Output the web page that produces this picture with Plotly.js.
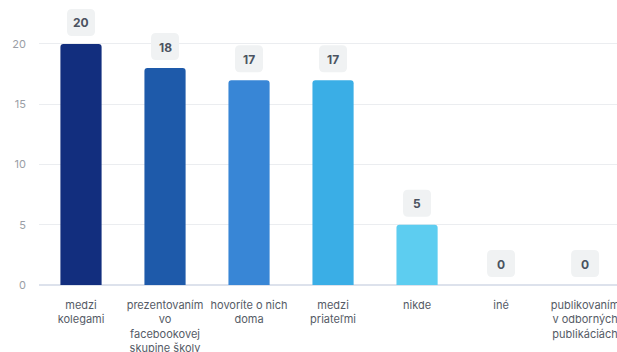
<!DOCTYPE html>
<html><head><meta charset="utf-8">
<script src="https://cdn.plot.ly/plotly-3.0.1.min.js"></script>
<style>html,body{margin:0;padding:0;background:#fff;}#chart{width:617px;height:352px;}</style>
</head><body><div id="chart"></div>
<script>
const categories = ["medzi<br>kolegami", "prezentovaním<br>vo<br>facebookovej<br>skupine školy", "hovoríte o nich<br>doma", "medzi<br>priateľmi", "nikde", "iné", "publikovaním<br>v odborných<br>publikáciách"];
const values = [20, 18, 17, 17, 5, 0, 0];
const barColors = ["#122e7e", "#1e5aaa", "#3886d6", "#3aaee6", "#5dcdf0", "#8fdcf5", "#b5e8f8"];
const yTicks = [0, 5, 10, 15, 20];

const xIdx = categories.map((c, i) => i);

const trace = {
  type: 'bar',
  x: xIdx,
  y: values,
  width: 0.49,
  marker: {color: barColors, cornerradius: 3},
  hoverinfo: 'none',
  cliponaxis: false
};

const boxPath = 'M -9,8 L 9,8 Q 14,8 14,13 L 14,30 Q 14,35 9,35 L -9,35 Q -14,35 -14,30 L -14,13 Q -14,8 -9,8 Z';
const shapes = values.map((v, i) => ({
  type: 'path', xref: 'x', yref: 'y', xsizemode: 'pixel', ysizemode: 'pixel',
  xanchor: i, yanchor: v, path: boxPath,
  fillcolor: '#f0f2f3', line: {width: 0}, layer: 'above'
}));
const annotations = values.map((v, i) => ({
  x: i, y: v, xref: 'x', yref: 'y', text: '<b>' + v + '</b>', showarrow: false,
  yanchor: 'middle', yshift: 21, font: {family: 'Inter, sans-serif', size: 12, color: '#4b5361'}
}));

const layout = {
  width: 617, height: 352,
  margin: {l: 39, r: 0, t: 0, b: 67},
  paper_bgcolor: '#fff', plot_bgcolor: '#fff',
  showlegend: false,
  font: {family: 'Inter, sans-serif'},
  xaxis: {
    range: [-0.5, 6.38], tickmode: 'array', tickvals: xIdx, ticktext: categories,
    showgrid: false, zeroline: false, showline: false, ticks: '',
    tickfont: {size: 11, color: '#555b66'}, ticklabelstandoff: 12, ticklabeloverflow: 'allow'
  },
  yaxis: {
    range: [0, 23.65], tickmode: 'array', tickvals: yTicks, ticktext: yTicks.map(String),
    showgrid: true, gridcolor: '#ebedf0', gridwidth: 1, zeroline: true, zerolinecolor: '#dde2ec', zerolinewidth: 1.5,
    showline: false, ticks: '', tickfont: {size: 11, color: '#9a9ea6'}, ticklabelstandoff: 12
  },
  shapes: shapes,
  annotations: annotations
};

Plotly.newPlot('chart', [trace], layout, {displayModeBar: false, staticPlot: true});
</script></body></html>
